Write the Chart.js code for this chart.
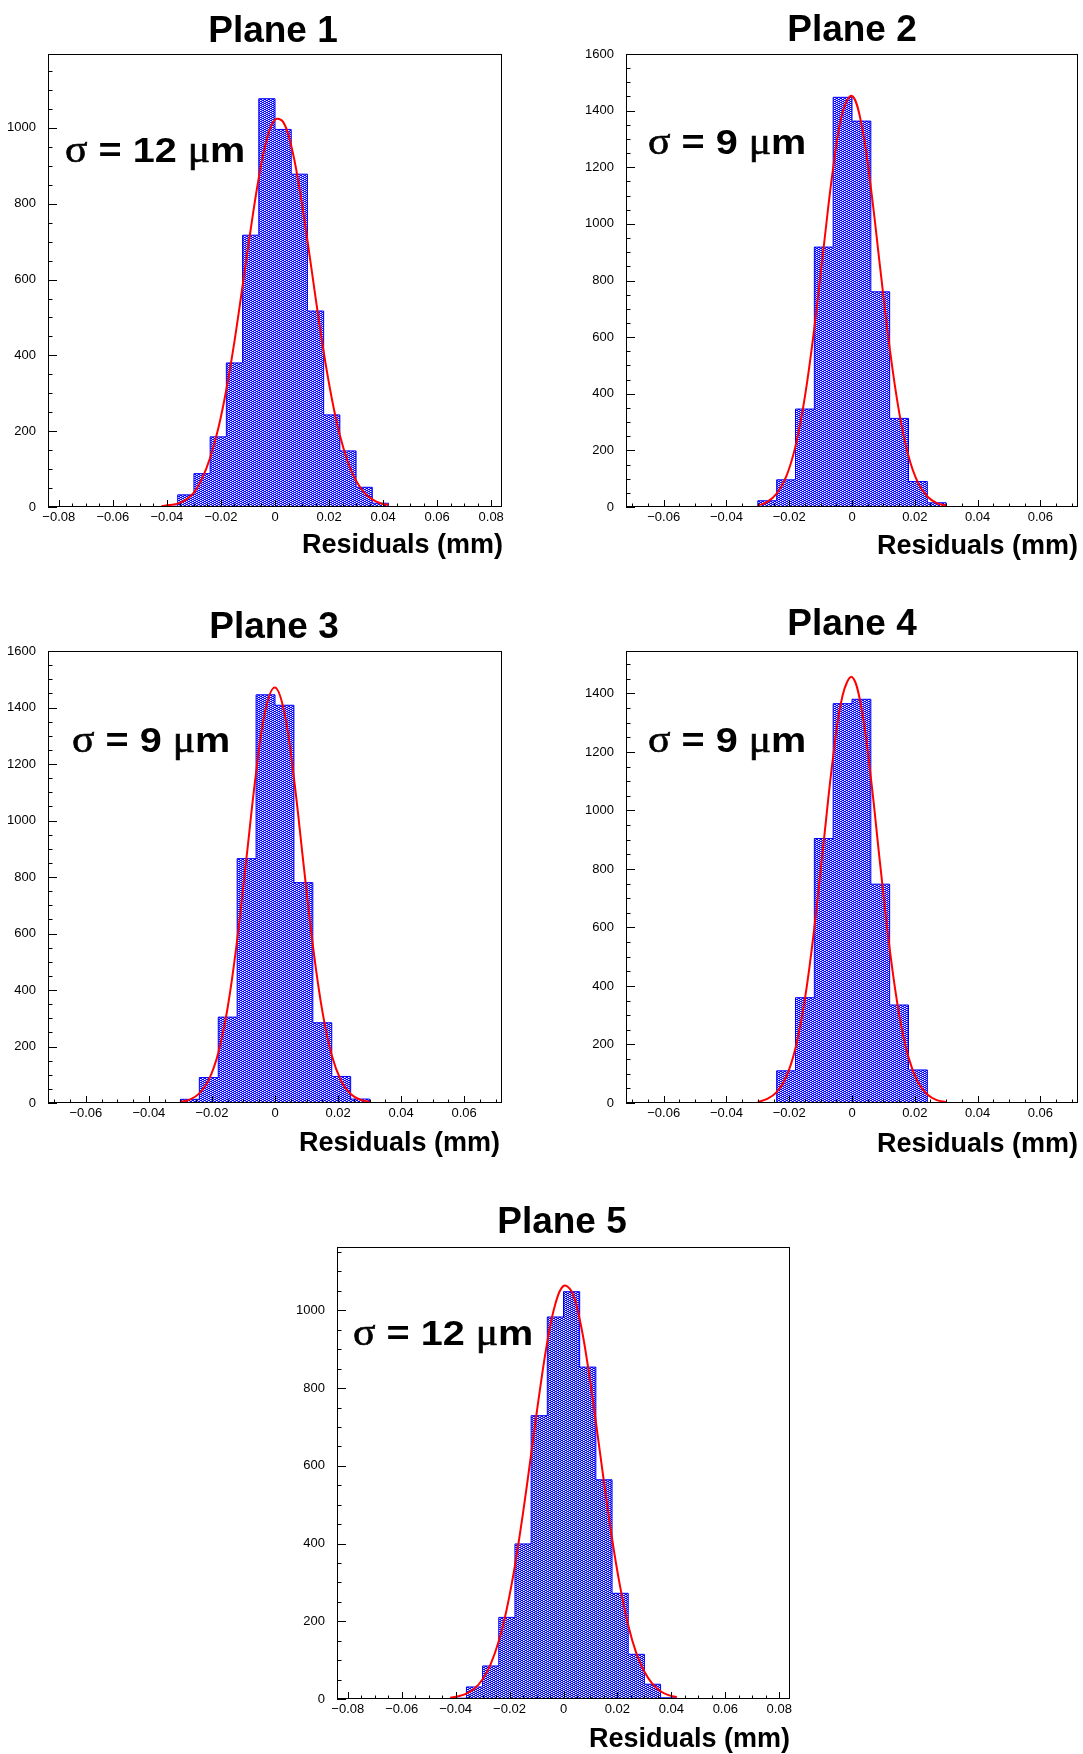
<!DOCTYPE html>
<html>
<head>
<meta charset="UTF-8">
<title>Residuals per plane</title>
<script src="https://cdn.jsdelivr.net/npm/chart.js"></script>
<style>
  html, body { margin: 0; padding: 0; background: #fff; }
  body { width: 1083px; height: 1754px; position: relative; overflow: hidden; }
  .pane { position: absolute; }
  .pane canvas { display: block; }
  #labels { position: absolute; left: 0; top: 0; pointer-events: none; }
  .title { font: bold 37px "Liberation Sans", Arial, sans-serif; fill: #000; }
  .sig { font: bold 36px "Liberation Sans", Arial, sans-serif; fill: #000; }
  .gr { font-family: "Liberation Serif", serif; font-weight: normal; font-size: 38px; stroke: #000; stroke-width: 0.6px; }
  .axt { font: bold 27px "Liberation Sans", Arial, sans-serif; fill: #000; }
</style>
</head>
<body>
<div class="pane" id="w1"><canvas id="c1"></canvas></div>
<div class="pane" id="w2"><canvas id="c2"></canvas></div>
<div class="pane" id="w3"><canvas id="c3"></canvas></div>
<div class="pane" id="w4"><canvas id="c4"></canvas></div>
<div class="pane" id="w5"><canvas id="c5"></canvas></div>

<svg id="labels" width="1083" height="1754">
  <text class="title" x="273" y="42" text-anchor="middle">Plane 1</text>
  <text class="title" x="852" y="41" text-anchor="middle">Plane 2</text>
  <text class="title" x="274" y="638" text-anchor="middle">Plane 3</text>
  <text class="title" x="852" y="635" text-anchor="middle">Plane 4</text>
  <text class="title" x="562" y="1233" text-anchor="middle">Plane 5</text>

  <text class="sig" transform="translate(65,162) scale(1.1,1)"><tspan class="gr">σ</tspan> = 12 <tspan class="gr">μ</tspan>m</text>
  <text class="sig" transform="translate(648,154) scale(1.1,1)"><tspan class="gr">σ</tspan> = 9 <tspan class="gr">μ</tspan>m</text>
  <text class="sig" transform="translate(72,752) scale(1.1,1)"><tspan class="gr">σ</tspan> = 9 <tspan class="gr">μ</tspan>m</text>
  <text class="sig" transform="translate(648,752) scale(1.1,1)"><tspan class="gr">σ</tspan> = 9 <tspan class="gr">μ</tspan>m</text>
  <text class="sig" transform="translate(353,1345) scale(1.1,1)"><tspan class="gr">σ</tspan> = 12 <tspan class="gr">μ</tspan>m</text>

  <text class="axt" x="503" y="553" text-anchor="end">Residuals (mm)</text>
  <text class="axt" x="1078" y="554" text-anchor="end">Residuals (mm)</text>
  <text class="axt" x="500" y="1151" text-anchor="end">Residuals (mm)</text>
  <text class="axt" x="1078" y="1152" text-anchor="end">Residuals (mm)</text>
  <text class="axt" x="790" y="1747" text-anchor="end">Residuals (mm)</text>
</svg>

<script>
// bin edges (mm) - planes 1 and 5 use the wide range, 2-4 the narrow one
const edgesWide = [-0.084, -0.078, -0.072, -0.066, -0.060, -0.054, -0.048,
  -0.042, -0.036, -0.030, -0.024, -0.018, -0.012, -0.006, 0, 0.006, 0.012, 0.018, 0.024, 0.030, 0.036, 0.042,
  0.048, 0.054, 0.060, 0.066, 0.072, 0.078, 0.084];
const edgesNarrow = [-0.072, -0.066, -0.060, -0.054, -0.048, -0.042, -0.036,
  -0.030, -0.024, -0.018, -0.012, -0.006, 0, 0.006, 0.012, 0.018, 0.024, 0.030,
  0.036, 0.042, 0.048, 0.054, 0.060, 0.066, 0.072];

// entries per bin
const counts1 = [0, 0, 0, 0, 0, 0, 0, 2, 32, 88, 185, 380, 717, 1077, 996, 878, 517, 243, 148, 52, 10, 0, 0, 0, 0, 0, 0, 0];
const counts2 = [0, 0, 0, 0, 0, 0, 0, 22, 96, 346, 918, 1447, 1363, 760, 313, 90, 15, 0, 0, 0, 0, 0, 0, 0];
const counts3 = [0, 0, 0, 0, 0, 0, 0, 13, 90, 304, 865, 1445, 1408, 780, 284, 94, 14, 0, 0, 0, 0, 0, 0, 0];
const counts4 = [0, 0, 0, 0, 0, 0, 0, 1, 110, 360, 904, 1365, 1380, 748, 335, 113, 1, 0, 0, 0, 0, 0, 0, 0];
const counts5 = [0, 0, 0, 0, 0, 0, 0, 2, 31, 85, 210, 399, 729, 983, 1048, 854, 564, 272, 115, 38, 3, 0, 0, 0, 0, 0, 0, 0];

// red fit curve
const fitXWide = [-0.042, -0.039, -0.036, -0.033, -0.030, -0.027, -0.024, -0.021, -0.018, -0.015, -0.012, -0.009, -0.006, -0.003,
  0, 0.003, 0.006, 0.009, 0.012, 0.015, 0.018, 0.021, 0.024, 0.027, 0.030, 0.033, 0.036, 0.039, 0.042];
const fitXNarrow = [-0.030, -0.027, -0.024, -0.021, -0.018, -0.015, -0.012, -0.009, -0.006, -0.003,
  0, 0.003, 0.006, 0.009, 0.012, 0.015, 0.018, 0.021, 0.024, 0.027, 0.030];
const fit1 = [2, 5, 9, 19, 38, 75, 130, 207, 310, 437, 583, 732, 868, 970, 1022, 1016, 953, 843, 703, 553, 410, 287, 189, 118, 69, 38, 20, 10, 5];
const fit2 = [5, 18, 47, 106, 215, 390, 633, 920, 1197, 1394, 1452, 1353, 1128, 842, 562, 336, 180, 86, 37, 14, 5];
const fit3 = [4, 12, 34, 82, 177, 339, 577, 872, 1169, 1392, 1471, 1381, 1150, 851, 559, 326, 169, 78, 32, 12, 4];
const fit4 = [4, 14, 37, 88, 188, 356, 599, 894, 1184, 1393, 1456, 1350, 1112, 813, 528, 304, 156, 71, 29, 10, 3];
const fit5 = [3, 7, 14, 27, 51, 90, 149, 233, 344, 479, 630, 783, 919, 1017, 1063, 1049, 977, 859, 713, 559, 413, 289, 190, 118, 70, 39, 20, 10, 5];

// axis tick labels
const xTicksWide = [-0.08, -0.06, -0.04, -0.02, 0, 0.02, 0.04, 0.06, 0.08];
const xTicksNarrow = [-0.06, -0.04, -0.02, 0, 0.02, 0.04, 0.06];
const yTicksTo1000 = [0, 200, 400, 600, 800, 1000];
const yTicksTo1400 = [0, 200, 400, 600, 800, 1000, 1200, 1400];
const yTicksTo1600 = [0, 200, 400, 600, 800, 1000, 1200, 1400, 1600];

// y axis tops
const yTops = [1195, 1600, 1600, 1545, 1163];

// plot frames on the page: left, top, width, height
const frames = [
  [48, 54, 454, 453],
  [626, 54, 452, 453],
  [48, 651, 454, 452],
  [626, 651, 452, 452],
  [337, 1247, 453, 452]
];

const AXIS_W = 60, AXIS_H = 30, PAD_T = 10, PAD_R = 10;

// blue hatch with white dots, like the ROOT fill style
function hatch() {
  const c = document.createElement('canvas');
  c.width = 4; c.height = 4;
  const g = c.getContext('2d');
  g.fillStyle = '#0000ff'; g.fillRect(0, 0, 4, 4);
  g.fillStyle = '#ffffff';
  g.fillRect(0, 0, 1, 1); g.fillRect(2, 1, 1, 1); g.fillRect(0, 2, 1, 1); g.fillRect(2, 3, 1, 1);
  g.fillStyle = '#8c8cff';
  g.fillRect(1, 0, 1, 1); g.fillRect(3, 1, 1, 1); g.fillRect(1, 2, 1, 1); g.fillRect(3, 3, 1, 1);
  return g.createPattern(c, 'repeat');
}

function fmtX(v) {
  if (Math.abs(v) < 1e-9) return '0';
  const s = Math.abs(v).toFixed(2);
  return v < 0 ? '\u2212' + s : s;
}

// ROOT-style frame with inward ticks
const rootFrame = {
  id: 'rootFrame',
  afterDatasetsDraw(chart) {
    const { ctx, chartArea: a, scales: { x, y } } = chart;
    ctx.save();
    ctx.strokeStyle = '#000';
    ctx.lineWidth = 1;
    ctx.beginPath();
    for (let k = 0; k * 50 <= y.max; k++) {
      const py = Math.round(y.getPixelForValue(k * 50)) + 0.5;
      const len = k % 4 === 0 ? 9 : 4.5;
      ctx.moveTo(a.left, py);
      ctx.lineTo(a.left + len, py);
    }
    const k0 = Math.ceil(x.min / 0.005 - 1e-6), k1 = Math.floor(x.max / 0.005 + 1e-6);
    for (let k = k0; k <= k1; k++) {
      const px = Math.round(x.getPixelForValue(k * 0.005)) + 0.5;
      const len = k % 4 === 0 ? 7 : 3.5;
      ctx.moveTo(px, a.bottom);
      ctx.lineTo(px, a.bottom - len);
    }
    ctx.stroke();
    ctx.strokeRect(Math.round(a.left) + 0.5, Math.round(a.top) + 0.5, Math.round(a.width) - 1, Math.round(a.height) - 1);
    ctx.restore();
  }
};

function drawPlane(n, edges, counts, fitX, fitY, xTicks, yTicks) {
  const [L, T, W, H] = frames[n];
  const wrap = document.getElementById('w' + (n + 1));
  wrap.style.left = (L - AXIS_W) + 'px';
  wrap.style.top = (T - PAD_T) + 'px';
  const cv = document.getElementById('c' + (n + 1));
  cv.width = W + AXIS_W + PAD_R;
  cv.height = H + PAD_T + AXIS_H;

  // step outline: one point per lower edge, plus the last upper edge
  const hist = edges.map((e, i) => ({ x: e, y: counts[Math.min(i, counts.length - 1)] }));
  const fit = fitX.map((v, i) => ({ x: v, y: fitY[i] }));

  new Chart(cv, {
    type: 'line',
    data: {
      datasets: [
        {
          data: fit, order: 1,
          borderColor: '#ff0000', borderWidth: 2,
          pointRadius: 0, tension: 0.4, fill: false
        },
        {
          data: hist, order: 2, stepped: 'before',
          borderColor: '#0000ff', borderWidth: 1,
          backgroundColor: hatch(), fill: 'origin',
          pointRadius: 0
        }
      ]
    },
    options: {
      responsive: false,
      animation: false,
      events: [],
      layout: { padding: { top: PAD_T, right: PAD_R, left: 0, bottom: 0 } },
      plugins: { legend: { display: false }, tooltip: { enabled: false } },
      scales: {
        x: {
          type: 'linear',
          min: edges[0], max: edges[edges.length - 1],
          grid: { display: false, drawTicks: false },
          border: { display: false },
          afterBuildTicks: s => { s.ticks = xTicks.map(v => ({ value: v })); },
          ticks: {
            autoSkip: false, maxRotation: 0,
            padding: 3, color: '#000',
            font: { family: 'Liberation Sans', size: 13 },
            callback: v => fmtX(v)
          },
          afterFit: s => { s.height = AXIS_H; s.paddingLeft = 0; s.paddingRight = 0; }
        },
        y: {
          min: 0, max: yTops[n],
          grid: { display: false, drawTicks: false },
          border: { display: false },
          afterBuildTicks: s => { s.ticks = yTicks.map(v => ({ value: v })); },
          ticks: {
            autoSkip: false,
            padding: 12, color: '#000',
            font: { family: 'Liberation Sans', size: 13 },
            callback: v => String(Math.round(v))
          },
          afterFit: s => { s.width = AXIS_W; s.paddingTop = 0; s.paddingBottom = 0; }
        }
      }
    },
    plugins: [rootFrame]
  });
}

drawPlane(0, edgesWide, counts1, fitXWide, fit1, xTicksWide, yTicksTo1000);
drawPlane(1, edgesNarrow, counts2, fitXNarrow, fit2, xTicksNarrow, yTicksTo1600);
drawPlane(2, edgesNarrow, counts3, fitXNarrow, fit3, xTicksNarrow, yTicksTo1600);
drawPlane(3, edgesNarrow, counts4, fitXNarrow, fit4, xTicksNarrow, yTicksTo1400);
drawPlane(4, edgesWide, counts5, fitXWide, fit5, xTicksWide, yTicksTo1000);
</script>
</body>
</html>
